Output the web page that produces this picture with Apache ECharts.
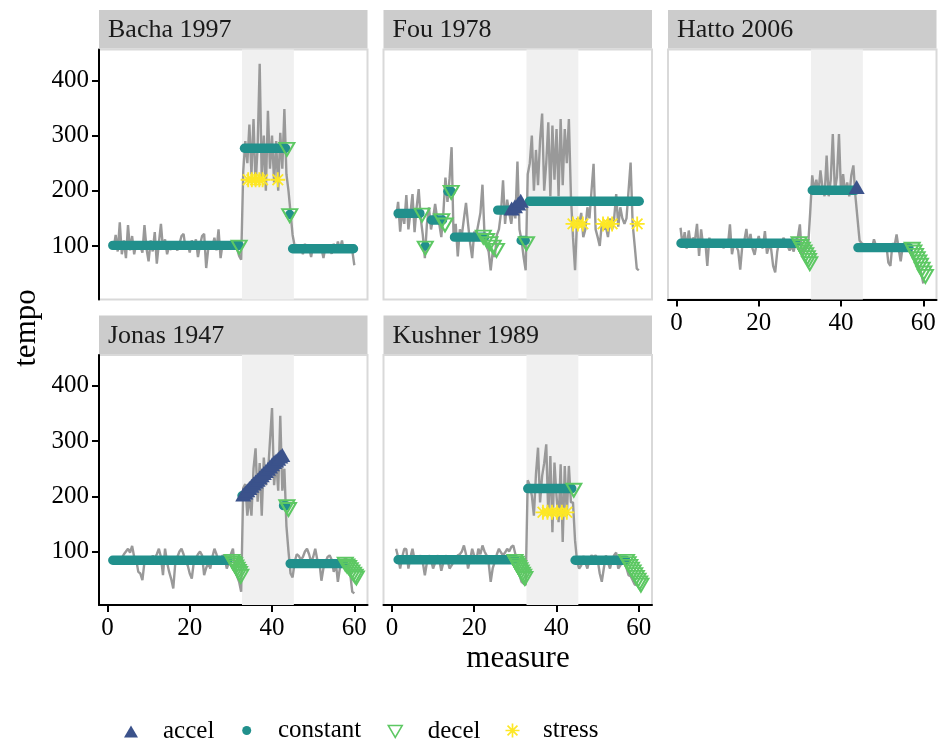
<!DOCTYPE html>
<html>
<head>
<meta charset="utf-8">
<script src="https://cdn.jsdelivr.net/npm/echarts@6/dist/echarts.min.js"></script>
<style>
  html, body { margin: 0; padding: 0; background: #ffffff; }
  #chart { width: 943px; height: 747px; }
</style>
</head>
<body>
<div id="chart"></div>
<script>
// Beat positions (in measures) shared by every performance
const measure = [1,1.5,2,2.5,3,3.5,4,4.5,5,5.5,6,6.5,7,7.5,8,8.5,9,9.5,10,10.5,11,11.5,12,12.5,13,13.5,14,14.5,15,15.5,16,16.5,17,17.5,18,18.5,19,19.5,20,20.5,21,21.5,22,22.5,23,23.5,24,24.5,25,25.5,26,26.5,27,27.5,28,28.5,29,29.5,30,30.5,31,31.5,32,32.5,33,33.5,34,34.5,35,35.5,36,36.5,37,37.5,38,38.5,39,39.5,40,40.5,41,41.5,42,42.5,43,43.5,44,44.5,45,45.5,46,46.5,47,47.5,48,48.5,49,49.5,50,50.5,51,51.5,52,52.5,53,53.5,54,54.5,55,55.5,56,56.5,57,57.5,58,58.5,59,59.5,60];

// Observed tempo for each performance
const tempoBacha = [100,95,120,90,143,85,110,78,138,92, 118,85,105,96,100,88,138,95,72,110, 90,125,68,105,140,95,112,85,100,93, 108,98,92,104,118,122,95,105,88,110, 98,112,80,102,118,122,60,95,108,98, 115,92,130,78,105,96,102,94,100,96, 104,95,82,75,235,290,250,320,230,330, 210,280,430,220,300,200,345,240,300,215, 290,200,305,240,348,230,200,160,120,100, 102,95,100,85,104,92,98,80,102,94, 100,88,96,78,100,92,95,86,104,90, 108,94,110,88,96,90,98,92,65];
const tempoFou = [150,180,126,165,140,192,130,160,194,125, 170,203,150,120,78,140,170,130,150,176, 150,140,116,160,224,180,222,279,110,140, 81,130,120,150,178,140,105,78,126,120, 140,160,211,120,100,90,56,90,80,120, 130,160,219,140,184,160,140,170,150,253, 130,110,80,56,230,250,300,200,274,210, 292,340,200,250,324,190,318,220,312,190, 330,210,312,250,330,190,116,56,150,140, 160,116,130,170,150,200,249,130,116,100, 140,130,135,116,150,130,150,194,135,170, 150,140,150,200,251,140,100,59,56];
const tempoHatto = [133,100,125,95,128,100,115,110,140,82, 130,100,110,64,115,100,105,98,110,100, 104,96,108,100,139,85,105,100,92,57, 100,110,131,100,122,95,84,105,118,100, 96,127,86,100,95,64,52,90,110,100, 115,108,100,92,100,90,110,115,139,80, 95,100,100,160,228,200,220,195,237,205, 190,264,190,220,303,200,225,303,195,230, 195,215,190,228,246,190,150,110,105,103, 100,103,100,95,112,100,95,102,100,98, 103,70,64,105,100,121,95,72,100,105, 100,105,95,80,75,68,60,50,32];
const tempoJonas = [84,84,85,86,84,88,95,100,105,98, 110,90,85,63,60,48,81,85,90,86, 92,88,95,105,90,57,105,80,63,50, 33,80,90,100,105,95,81,75,60,51, 81,88,95,100,93,57,70,80,69,90, 105,95,81,85,93,90,69,80,95,105, 69,55,45,27,215,222,165,200,165,250, 287,190,260,165,270,220,240,300,360,220, 265,210,346,210,250,146,100,60,53,81, 95,92,85,90,100,105,95,81,90,105, 85,81,47,70,81,90,93,85,63,80, 45,70,82,85,88,75,60,27,24];
const tempoKushner = [105,90,69,90,105,104,69,90,105,85, 81,85,93,80,57,80,93,85,69,80, 93,85,65,80,93,85,69,75,81,85, 93,95,100,111,95,69,85,105,92,81, 105,95,111,100,93,80,45,70,81,95, 105,98,93,98,105,100,108,111,95,70, 57,45,42,39,229,220,201,165,240,288, 189,237,260,294,165,273,135,261,200,153, 258,117,255,165,255,189,189,120,81,69, 75,92,80,69,85,93,90,93,85,60, 45,70,93,80,69,85,93,98,69,75, 81,80,70,57,55,48,40,39,38];

// Fitted states: constant runs as [from, to, tempo]; other states as [measure, tempo]
const constBacha = [[1.3, 32, 101], [33.3, 43.3, 277], [44.3, 44.3, 157], [45, 59.8, 95]];
const accelBacha = [];
const decelBacha = [[32, 98], [43.6, 275], [44.3, 155]];
const stressBacha = [[34.2, 220], [35.1, 220], [36.0, 220], [36.9, 220], [37.7, 220], [41.4, 220]];

const constFou = [[1.5, 6.8, 159], [8.1, 8.1, 100], [9.6, 12.3, 147], [13.6, 14.4, 199], [15.2, 22.5, 116], [25.7, 29.3, 165], [31.4, 32.4, 110], [33.4, 60.1, 181]];
const accelFou = [[29.1, 168], [29.9, 172], [30.7, 177], [31.3, 182]];
const decelFou = [[7.3, 156], [8.1, 96], [12.1, 146], [12.9, 138], [14.4, 197], [22.2, 116], [23.0, 110], [23.8, 104], [24.6, 98], [25.4, 92], [32.7, 104]];
const stressFou = [[44.0, 140], [45.2, 140], [46.4, 140], [51.3, 140], [52.5, 140], [53.5, 140], [59.6, 140]];

const constHatto = [[1.1, 29, 105], [33, 43.5, 201], [44.1, 56.5, 97]];
const accelHatto = [[43.8, 207]];
const decelHatto = [[29.8, 104], [30.2, 99], [30.6, 94], [31.0, 89], [31.4, 84], [31.8, 79], [32.1, 74], [32.4, 68],
  [57.3, 94], [57.7, 89], [58.1, 83], [58.5, 77], [58.9, 71], [59.3, 65], [59.7, 58], [60.1, 51], [60.5, 45]];
const stressHatto = [];

const constJonas = [[1.3, 29.3, 84], [32.7, 32.7, 201], [42.8, 43.4, 183], [44.4, 57.3, 78]];
const accelJonas = [[33, 203], [33.5, 207], [34, 211], [34.5, 215], [35, 219], [35.5, 223], [36, 227], [36.5, 230], [37, 234], [37.5, 238], [38, 242], [38.5, 246], [39, 250], [39.5, 254], [40, 258], [40.5, 262], [41, 265], [41.5, 268], [42, 272], [42.5, 275]];
const decelJonas = [[30.3, 82], [30.6, 79], [30.9, 76], [31.2, 72], [31.5, 68], [31.8, 64], [32.1, 60], [32.4, 55], [43.6, 181], [44.0, 176],
  [57.8, 77], [58.2, 74], [58.6, 71], [59.0, 67], [59.4, 63], [59.8, 59], [60.2, 55], [60.5, 52]];
const stressJonas = [];

const constKushner = [[1.5, 30, 85], [33, 43.7, 214], [44.5, 56.8, 84]];
const accelKushner = [];
const decelKushner = [[29.9, 82], [30.2, 79], [30.5, 75], [30.8, 71], [31.1, 67], [31.4, 63], [31.7, 59], [32.0, 55], [32.3, 51], [44.2, 211],
  [57.0, 82], [57.4, 78], [57.8, 73], [58.2, 68], [58.6, 63], [59.0, 58], [59.4, 53], [59.8, 48], [60.2, 43], [60.5, 39]];
const stressKushner = [[36.7, 171], [37.8, 171], [38.9, 171], [40.1, 171], [41.3, 171], [42.5, 171]];

// Axis ticks and the highlighted middle section
const xTicks = [0, 20, 40, 60];
const yTicks = [100, 200, 300, 400];
const sectionFrom = 32.7, sectionTo = 45.3;

// ---- styling and layout ----
const FONT = 'Liberation Serif';
const COLORS = { accel: '#3B528B', constant: '#21908C', decel: '#5DC863', stress: '#FDE725', line: '#999999' };
const ASTERISK = 'path://M-10,-1.2L10,-1.2L10,1.2L-10,1.2Z M-1.2,-10L1.2,-10L1.2,10L-1.2,10Z M-6.22,-7.92L7.92,6.22L6.22,7.92L-7.92,-6.22Z M6.22,-7.92L7.92,-6.22L-6.22,7.92L-7.92,6.22Z';
const DOWN_TRIANGLE = 'path://M0,0L14,0L7,12Z';

const colLeft = [99, 383.5, 668];
const rowTop = [49.5, 355];
const panelW = 268.5, panelH = 250, stripH = 39.5;

const panels = [
  { title: 'Bacha 1997', tempo: tempoBacha, cons: constBacha, acc: accelBacha, dec: decelBacha, str: stressBacha, col: 0, row: 0, showX: false, showY: true },
  { title: 'Fou 1978', tempo: tempoFou, cons: constFou, acc: accelFou, dec: decelFou, str: stressFou, col: 1, row: 0, showX: false, showY: false },
  { title: 'Hatto 2006', tempo: tempoHatto, cons: constHatto, acc: accelHatto, dec: decelHatto, str: stressHatto, col: 2, row: 0, showX: true, showY: false },
  { title: 'Jonas 1947', tempo: tempoJonas, cons: constJonas, acc: accelJonas, dec: decelJonas, str: stressJonas, col: 0, row: 1, showX: true, showY: true },
  { title: 'Kushner 1989', tempo: tempoKushner, cons: constKushner, acc: accelKushner, dec: decelKushner, str: stressKushner, col: 1, row: 1, showX: true, showY: false }
];

const grids = [], xAxes = [], yAxes = [], series = [], graphics = [];
const tickText = { fontSize: 25, fontFamily: FONT, color: '#000000' };
const blackLine = { color: '#000000', width: 2 };

panels.forEach((p, i) => {
  const left = colLeft[p.col], top = rowTop[p.row];
  grids.push({ left: left, top: top, width: panelW, height: panelH, show: true,
    backgroundColor: '#ffffff', borderColor: '#D9D9D9', borderWidth: 2 });

  xAxes.push({ type: 'value', gridIndex: i, min: -2.05, max: 63.2,
    axisLine: { show: p.showX, onZero: false, lineStyle: blackLine },
    axisTick: { show: p.showX, customValues: xTicks, length: 7, lineStyle: blackLine },
    axisLabel: { show: p.showX, customValues: xTicks, margin: 11, ...tickText },
    splitLine: { show: false } });

  yAxes.push({ type: 'value', gridIndex: i, min: 3, max: 456,
    axisLine: { show: p.showY, onZero: false, lineStyle: blackLine },
    axisTick: { show: p.showY, customValues: yTicks, length: 7, lineStyle: blackLine },
    axisLabel: { show: p.showY, customValues: yTicks, margin: 10, ...tickText },
    splitLine: { show: false } });

  // observed tempo curve, with the middle section shaded behind it
  series.push({ type: 'line', name: 'tempo', xAxisIndex: i, yAxisIndex: i, z: 2, silent: true,
    data: measure.map((m, k) => [m, p.tempo[k]]),
    symbol: 'none', lineStyle: { color: COLORS.line, width: 2.4 },
    markArea: { silent: true, itemStyle: { color: '#F0F0F0' },
      data: [[{ xAxis: sectionFrom }, { xAxis: sectionTo }]] } });

  // constant-tempo runs: a row of overlapping dots drawn as one rounded bar
  series.push({ type: 'custom', name: 'constant', xAxisIndex: i, yAxisIndex: i, z: 3, silent: true,
    data: p.cons, encode: { x: [0, 1], y: 2 },
    itemStyle: { color: COLORS.constant },
    renderItem: (params, api) => {
      const a = api.coord([api.value(0), api.value(2)]);
      const b = api.coord([api.value(1), api.value(2)]);
      const r = 4.7;
      return { type: 'rect',
        shape: { x: a[0] - r, y: a[1] - r, width: b[0] - a[0] + 2 * r, height: 2 * r, r: r },
        style: { fill: COLORS.constant } };
    } });

  series.push({ type: 'scatter', name: 'accel', xAxisIndex: i, yAxisIndex: i, z: 4, silent: true,
    data: p.acc, symbol: 'triangle', symbolSize: [16, 14],
    itemStyle: { color: COLORS.accel, opacity: 1 } });

  series.push({ type: 'scatter', name: 'decel', xAxisIndex: i, yAxisIndex: i, z: 5, silent: true,
    data: p.dec, symbol: 'triangle', symbolRotate: 180, symbolSize: [15, 13],
    itemStyle: { color: 'rgba(255,255,255,0)', borderColor: COLORS.decel, borderWidth: 2, opacity: 1 } });

  series.push({ type: 'scatter', name: 'stress', xAxisIndex: i, yAxisIndex: i, z: 6, silent: true,
    data: p.str, symbol: ASTERISK, symbolSize: 15,
    itemStyle: { color: COLORS.stress, opacity: 1 } });

  // facet strip
  graphics.push({ type: 'rect', silent: true, z: 10,
    shape: { x: left, y: top - stripH, width: panelW, height: stripH - 1 },
    style: { fill: '#CCCCCC' } });
  graphics.push({ type: 'text', silent: true, z: 11, x: left + 9, y: top - stripH / 2 + 0.5,
    style: { text: p.title, font: '26px "' + FONT + '"', fill: '#1A1A1A', verticalAlign: 'middle', align: 'left' } });
});

// axis titles
graphics.push({ type: 'text', silent: true, x: 27, y: 328, rotation: Math.PI / 2,
  style: { text: 'tempo', font: '31px "' + FONT + '"', fill: '#000000', align: 'center', verticalAlign: 'middle' } });
graphics.push({ type: 'text', silent: true, x: 518, y: 659,
  style: { text: 'measure', font: '31px "' + FONT + '"', fill: '#000000', align: 'center', verticalAlign: 'middle' } });

// one legend per state so each key sits where it should
function legendFor(name, icon, size, left, top, gap, style) {
  return { show: true, selectedMode: false, orient: 'horizontal', padding: 0,
    left: left, top: top, itemWidth: size[0], itemHeight: size[1],
    formatter: '{t|{name}}',
    textStyle: { fontSize: 25, fontFamily: FONT, color: '#000000',
      rich: { t: { fontSize: 25, fontFamily: FONT, color: '#000000', padding: [0, 0, 0, gap] } } },
    data: [{ name: name, icon: icon, itemStyle: style }] };
}
const legends = [
  legendFor('accel', 'triangle', [14, 12], 124, 719, 20, { color: COLORS.accel }),
  legendFor('constant', 'circle', [9, 9], 242.2, 718, 21.8, { color: COLORS.constant }),
  legendFor('decel', DOWN_TRIANGLE, [14, 12], 387.5, 719, 20.5, { color: 'rgba(255,255,255,0)', borderColor: COLORS.decel, borderWidth: 1.5 }),
  legendFor('stress', ASTERISK, [14, 14], 505.5, 718, 18.5, { color: COLORS.stress })
];

const chart = echarts.init(document.getElementById('chart'), null, { renderer: 'canvas' });
chart.setOption({
  animation: false,
  backgroundColor: '#ffffff',
  textStyle: { fontFamily: FONT },
  grid: grids,
  xAxis: xAxes,
  yAxis: yAxes,
  series: series,
  legend: legends,
  graphic: graphics
});
</script>
</body>
</html>
